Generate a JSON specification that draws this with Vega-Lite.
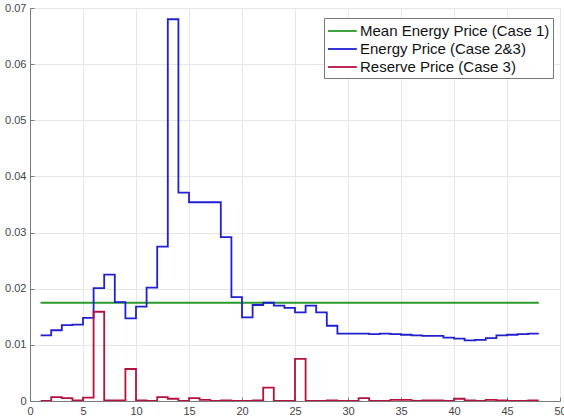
{
  "$schema": "https://vega.github.io/schema/vega-lite/v6.json",
  "width": 530,
  "height": 393,
  "autosize": {"type": "none"},
  "padding": {"left": 30, "top": 8, "right": 4, "bottom": 19},
  "background": "white",
  "config": {
    "font": "Liberation Sans",
    "view": {"stroke": "#cfcfcf", "strokeWidth": 1},
    "axis": {
      "gridColor": "#e6e6e6",
      "gridWidth": 1,
      "domainColor": "#7a7a7a",
      "tickColor": "#7a7a7a",
      "labelColor": "#444444",
      "labelFontSize": 11,
      "labelFont": "Liberation Sans",
      "tickSize": -4,
      "labelPadding": 8
    }
  },
  "datasets": {
    "rows": [
      {"x": 1, "value": 0.0175, "series": "Mean Energy Price (Case 1)"},
      {"x": 48, "value": 0.0175, "series": "Mean Energy Price (Case 1)"},
      {"x": 1, "value": 0.0117, "series": "Energy Price (Case 2&3)"},
      {"x": 2, "value": 0.0126, "series": "Energy Price (Case 2&3)"},
      {"x": 3, "value": 0.0135, "series": "Energy Price (Case 2&3)"},
      {"x": 4, "value": 0.0136, "series": "Energy Price (Case 2&3)"},
      {"x": 5, "value": 0.0148, "series": "Energy Price (Case 2&3)"},
      {"x": 6, "value": 0.0201, "series": "Energy Price (Case 2&3)"},
      {"x": 7, "value": 0.0225, "series": "Energy Price (Case 2&3)"},
      {"x": 8, "value": 0.0176, "series": "Energy Price (Case 2&3)"},
      {"x": 9, "value": 0.0147, "series": "Energy Price (Case 2&3)"},
      {"x": 10, "value": 0.0168, "series": "Energy Price (Case 2&3)"},
      {"x": 11, "value": 0.0202, "series": "Energy Price (Case 2&3)"},
      {"x": 12, "value": 0.0275, "series": "Energy Price (Case 2&3)"},
      {"x": 13, "value": 0.068, "series": "Energy Price (Case 2&3)"},
      {"x": 14, "value": 0.0371, "series": "Energy Price (Case 2&3)"},
      {"x": 15, "value": 0.0354, "series": "Energy Price (Case 2&3)"},
      {"x": 16, "value": 0.0354, "series": "Energy Price (Case 2&3)"},
      {"x": 17, "value": 0.0354, "series": "Energy Price (Case 2&3)"},
      {"x": 18, "value": 0.0292, "series": "Energy Price (Case 2&3)"},
      {"x": 19, "value": 0.0185, "series": "Energy Price (Case 2&3)"},
      {"x": 20, "value": 0.0149, "series": "Energy Price (Case 2&3)"},
      {"x": 21, "value": 0.0171, "series": "Energy Price (Case 2&3)"},
      {"x": 22, "value": 0.0175, "series": "Energy Price (Case 2&3)"},
      {"x": 23, "value": 0.017, "series": "Energy Price (Case 2&3)"},
      {"x": 24, "value": 0.0166, "series": "Energy Price (Case 2&3)"},
      {"x": 25, "value": 0.0158, "series": "Energy Price (Case 2&3)"},
      {"x": 26, "value": 0.017, "series": "Energy Price (Case 2&3)"},
      {"x": 27, "value": 0.0158, "series": "Energy Price (Case 2&3)"},
      {"x": 28, "value": 0.0134, "series": "Energy Price (Case 2&3)"},
      {"x": 29, "value": 0.012, "series": "Energy Price (Case 2&3)"},
      {"x": 30, "value": 0.012, "series": "Energy Price (Case 2&3)"},
      {"x": 31, "value": 0.012, "series": "Energy Price (Case 2&3)"},
      {"x": 32, "value": 0.0119, "series": "Energy Price (Case 2&3)"},
      {"x": 33, "value": 0.012, "series": "Energy Price (Case 2&3)"},
      {"x": 34, "value": 0.0119, "series": "Energy Price (Case 2&3)"},
      {"x": 35, "value": 0.0118, "series": "Energy Price (Case 2&3)"},
      {"x": 36, "value": 0.0117, "series": "Energy Price (Case 2&3)"},
      {"x": 37, "value": 0.0116, "series": "Energy Price (Case 2&3)"},
      {"x": 38, "value": 0.0116, "series": "Energy Price (Case 2&3)"},
      {"x": 39, "value": 0.0113, "series": "Energy Price (Case 2&3)"},
      {"x": 40, "value": 0.0111, "series": "Energy Price (Case 2&3)"},
      {"x": 41, "value": 0.0108, "series": "Energy Price (Case 2&3)"},
      {"x": 42, "value": 0.0109, "series": "Energy Price (Case 2&3)"},
      {"x": 43, "value": 0.0112, "series": "Energy Price (Case 2&3)"},
      {"x": 44, "value": 0.0117, "series": "Energy Price (Case 2&3)"},
      {"x": 45, "value": 0.0118, "series": "Energy Price (Case 2&3)"},
      {"x": 46, "value": 0.0119, "series": "Energy Price (Case 2&3)"},
      {"x": 47, "value": 0.012, "series": "Energy Price (Case 2&3)"},
      {"x": 48, "value": 0.012, "series": "Energy Price (Case 2&3)"},
      {"x": 1, "value": 0.0, "series": "Reserve Price (Case 3)"},
      {"x": 2, "value": 0.0007, "series": "Reserve Price (Case 3)"},
      {"x": 3, "value": 0.0005, "series": "Reserve Price (Case 3)"},
      {"x": 4, "value": 0.0001, "series": "Reserve Price (Case 3)"},
      {"x": 5, "value": 0.0006, "series": "Reserve Price (Case 3)"},
      {"x": 6, "value": 0.0159, "series": "Reserve Price (Case 3)"},
      {"x": 7, "value": 0.0001, "series": "Reserve Price (Case 3)"},
      {"x": 8, "value": 0.0001, "series": "Reserve Price (Case 3)"},
      {"x": 9, "value": 0.0057, "series": "Reserve Price (Case 3)"},
      {"x": 10, "value": 0.0001, "series": "Reserve Price (Case 3)"},
      {"x": 11, "value": 0.0, "series": "Reserve Price (Case 3)"},
      {"x": 12, "value": 0.0007, "series": "Reserve Price (Case 3)"},
      {"x": 13, "value": 0.0004, "series": "Reserve Price (Case 3)"},
      {"x": 14, "value": 0.0, "series": "Reserve Price (Case 3)"},
      {"x": 15, "value": 0.0005, "series": "Reserve Price (Case 3)"},
      {"x": 16, "value": 0.0002, "series": "Reserve Price (Case 3)"},
      {"x": 17, "value": 0.0, "series": "Reserve Price (Case 3)"},
      {"x": 18, "value": 0.0001, "series": "Reserve Price (Case 3)"},
      {"x": 19, "value": 0.0, "series": "Reserve Price (Case 3)"},
      {"x": 20, "value": 0.0, "series": "Reserve Price (Case 3)"},
      {"x": 21, "value": 0.0001, "series": "Reserve Price (Case 3)"},
      {"x": 22, "value": 0.0024, "series": "Reserve Price (Case 3)"},
      {"x": 23, "value": 0.0, "series": "Reserve Price (Case 3)"},
      {"x": 24, "value": 0.0, "series": "Reserve Price (Case 3)"},
      {"x": 25, "value": 0.0075, "series": "Reserve Price (Case 3)"},
      {"x": 26, "value": 0.0, "series": "Reserve Price (Case 3)"},
      {"x": 27, "value": 0.0, "series": "Reserve Price (Case 3)"},
      {"x": 28, "value": 0.0001, "series": "Reserve Price (Case 3)"},
      {"x": 29, "value": 0.0, "series": "Reserve Price (Case 3)"},
      {"x": 30, "value": 0.0, "series": "Reserve Price (Case 3)"},
      {"x": 31, "value": 0.0005, "series": "Reserve Price (Case 3)"},
      {"x": 32, "value": 0.0, "series": "Reserve Price (Case 3)"},
      {"x": 33, "value": 0.0, "series": "Reserve Price (Case 3)"},
      {"x": 34, "value": 0.0002, "series": "Reserve Price (Case 3)"},
      {"x": 35, "value": 0.0002, "series": "Reserve Price (Case 3)"},
      {"x": 36, "value": 0.0, "series": "Reserve Price (Case 3)"},
      {"x": 37, "value": 0.0001, "series": "Reserve Price (Case 3)"},
      {"x": 38, "value": 0.0001, "series": "Reserve Price (Case 3)"},
      {"x": 39, "value": 0.0, "series": "Reserve Price (Case 3)"},
      {"x": 40, "value": 0.0004, "series": "Reserve Price (Case 3)"},
      {"x": 41, "value": 0.0001, "series": "Reserve Price (Case 3)"},
      {"x": 42, "value": 0.0, "series": "Reserve Price (Case 3)"},
      {"x": 43, "value": 0.0002, "series": "Reserve Price (Case 3)"},
      {"x": 44, "value": 0.0001, "series": "Reserve Price (Case 3)"},
      {"x": 45, "value": 0.0, "series": "Reserve Price (Case 3)"},
      {"x": 46, "value": 0.0, "series": "Reserve Price (Case 3)"},
      {"x": 47, "value": 0.0001, "series": "Reserve Price (Case 3)"},
      {"x": 48, "value": 0.0001, "series": "Reserve Price (Case 3)"}
    ]
  },
  "data": {"name": "rows"},
  "mark": {"type": "line", "interpolate": "step-after", "strokeWidth": 1.8, "clip": true},
  "encoding": {
    "x": {
      "field": "x",
      "type": "quantitative",
      "scale": {"domain": [0, 50], "nice": false, "zero": false},
      "axis": {"title": null, "values": [0, 5, 10, 15, 20, 25, 30, 35, 40, 45, 50], "labelFlush": false}
    },
    "y": {
      "field": "value",
      "type": "quantitative",
      "scale": {"domain": [0, 0.07], "nice": false},
      "axis": {
        "title": null,
        "values": [0, 0.01, 0.02, 0.03, 0.04, 0.05, 0.06, 0.07],
        "labelExpr": "datum.value == 0 ? '0' : format(datum.value, '.2f')",
        "labelFlush": false
      }
    },
    "color": {
      "field": "series",
      "type": "nominal",
      "scale": {
        "domain": ["Mean Energy Price (Case 1)", "Energy Price (Case 2&3)", "Reserve Price (Case 3)"],
        "range": ["#2a9a2a", "#2020d0", "#b5123e"]
      },
      "legend": {
        "title": null,
        "orient": "none",
        "legendX": 294,
        "legendY": 10,
        "symbolType": "M-1,0H2.2",
        "symbolSize": 324,
        "symbolStrokeWidth": 1.8,
        "labelFontSize": 15,
        "labelFont": "Liberation Sans",
        "labelColor": "#111111",
        "labelOffset": 13,
        "rowPadding": 0,
        "padding": 3,
        "strokeColor": "#777777",
        "fillColor": "white",
        "labelLimit": 300
      }
    }
  }
}
